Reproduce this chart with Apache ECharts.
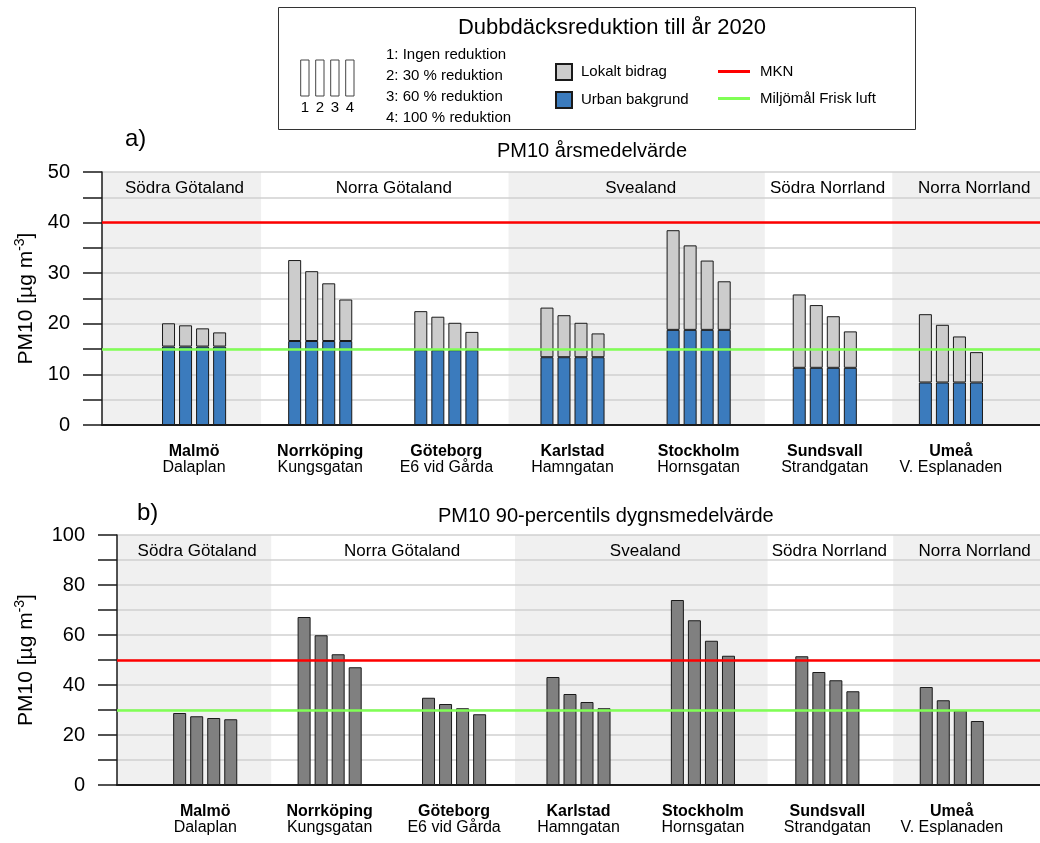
<!DOCTYPE html>
<html><head><meta charset="utf-8">
<script src="https://cdn.jsdelivr.net/npm/echarts@6/dist/echarts.min.js"></script>
<style>html,body{margin:0;padding:0;background:#fff}#c{width:1040px;height:843px}</style>
</head><body><div id="c"></div>
<script>
// ---------- data ----------
const cities = ['Malmö', 'Norrköping', 'Göteborg', 'Karlstad', 'Stockholm', 'Sundsvall', 'Umeå'];
const streets = ['Dalaplan', 'Kungsgatan', 'E6 vid Gårda', 'Hamngatan', 'Hornsgatan', 'Strandgatan', 'V. Esplanaden'];
const regions = ['Södra Götaland', 'Norra Götaland', 'Svealand', 'Södra Norrland', 'Norra Norrland'];
const regionInnerBounds = [0.53, 2.49, 4.52, 5.53]; // region borders, in city-index units
const scenarios = ['1: Ingen reduktion', '2: 30 % reduktion', '3: 60 % reduktion', '4: 100 % reduktion'];
const scenarioNumbers = ['1', '2', '3', '4'];
// a) annual mean, urban background (same for all scenarios)
const urbanBackground = [15.5, 16.6, 14.8, 13.4, 18.8, 11.3, 8.4];
// a) annual mean, local contribution per scenario
const localScen1 = [4.6, 16.0, 7.7, 9.8, 19.7, 14.5, 13.5];
const localScen2 = [4.2, 13.8, 6.6, 8.3, 16.7, 12.4, 11.4];
const localScen3 = [3.6, 11.4, 5.4, 6.8, 13.7, 10.2, 9.1];
const localScen4 = [2.8, 8.2, 3.6, 4.7, 9.6, 7.2, 6.0];
// b) 90-percentile daily mean per scenario
const p90Scen1 = [28.8, 67.2, 34.9, 43.2, 74.0, 51.5, 39.2];
const p90Scen2 = [27.5, 59.9, 32.4, 36.4, 65.9, 45.2, 33.9];
const p90Scen3 = [26.8, 52.3, 30.7, 33.2, 57.7, 41.9, 29.8];
const p90Scen4 = [26.3, 47.1, 28.3, 30.7, 51.7, 37.5, 25.6];
const mknAnnual = 40, goalAnnual = 15;
const mknP90 = 50, goalP90 = 30;
const yTicksA = {max: 50, step: 5, labelStep: 10};
const yTicksB = {max: 100, step: 10, labelStep: 20};

// ---------- chart ----------
const FONT = '"Liberation Sans", Arial, Helvetica, sans-serif';
const localAll = [localScen1, localScen2, localScen3, localScen4];
const p90All = [p90Scen1, p90Scen2, p90Scen3, p90Scen4];
const BLUE = '#3b7bbd', LIGHT = '#cccccc', DARK = '#808080', EDGE = '#1a1a1a';
const RED = '#ff0000', GREEN = '#80ff55';

// back grid (bands, gridlines, y-axis, limit lines) + bar grid (category axis) per panel
const panels = [
  {xMin: -0.73, xMax: 6.70, y: yTicksA, nameGap: 62, mkn: mknAnnual, goal: goalAnnual,
   back: {left: 102, right: 0, top: 172, bottom: 418}, bars: {left: 131, right: 26, top: 172, bottom: 418}},
  {xMin: -0.71, xMax: 6.71, y: yTicksB, nameGap: 78, mkn: mknP90, goal: goalP90,
   back: {left: 117, right: 0, top: 535, bottom: 58}, bars: {left: 143, right: 26, top: 535, bottom: 58}}
];
const labelShift = [3, 9, 4, -1, 8];

const grids = [], xAxes = [], yAxes = [];
panels.forEach((p, i) => {
  grids.push(p.back, p.bars);
  // back axes (index 2i)
  xAxes.push({
    type: 'value', gridIndex: 2 * i, min: p.xMin, max: p.xMax, z: 1,
    axisLine: {show: true, onZero: false, lineStyle: {color: EDGE, width: 2}},
    axisTick: {show: false}, splitLine: {show: false}, axisLabel: {show: false}
  });
  yAxes.push({
    type: 'value', gridIndex: 2 * i, min: 0, max: p.y.max, interval: p.y.step, z: 1,
    axisLine: {show: true, onZero: false, lineStyle: {color: EDGE, width: 1.5}},
    axisTick: {show: true, length: 19, lineStyle: {color: EDGE, width: 1.5}},
    axisLabel: {margin: 32, fontSize: 20, color: '#000', fontFamily: FONT,
      formatter: v => (v % p.y.labelStep === 0 ? String(v) : '')},
    splitLine: {show: true, lineStyle: {color: '#d0d0d0', width: 1.5}},
    name: '{n|PM10 [µg m}{s|-3}{n|]}', nameLocation: 'middle', nameRotate: 90, nameGap: p.nameGap,
    nameTextStyle: {rich: {
      n: {fontSize: 21, lineHeight: 26, fontFamily: FONT, color: '#000'},
      s: {fontSize: 14, lineHeight: 14, verticalAlign: 'top', fontFamily: FONT, color: '#000'}
    }}
  });
  // bar axes (index 2i+1)
  xAxes.push({
    type: 'category', gridIndex: 2 * i + 1, data: cities,
    axisLine: {show: false}, axisTick: {show: false}, splitLine: {show: false},
    axisLabel: {
      margin: 19, interval: 0,
      formatter: (v, idx) => '{b|' + v + '}\n{r|' + streets[idx] + '}',
      rich: {
        b: {fontWeight: 'bold', fontSize: 16, lineHeight: 16, fontFamily: FONT, color: '#000'},
        r: {fontSize: 16, lineHeight: 16, fontFamily: FONT, color: '#000'}
      }
    }
  });
  yAxes.push({type: 'value', gridIndex: 2 * i + 1, min: 0, max: p.y.max, show: false, splitLine: {show: false}});
});

const series = [];
panels.forEach((p, i) => {
  const bounds = [p.xMin].concat(regionInnerBounds, [p.xMax]);
  series.push({
    type: 'line', name: 'bg' + i, xAxisIndex: 2 * i, yAxisIndex: 2 * i, data: [], z: -5, silent: true,
    markArea: {
      silent: true, z: -5,
      label: {show: true, position: 'insideTop', distance: 8, fontSize: 17, color: '#000', fontFamily: FONT},
      data: regions.map((r, k) => [
        {xAxis: bounds[k], name: r,
         itemStyle: {color: k % 2 === 0 ? '#f0f0f0' : 'rgba(255,255,255,0)'},
         label: {offset: [labelShift[k], 0]}},
        {xAxis: bounds[k + 1]}
      ])
    }
  });
});

for (let s = 0; s < 4; s++) {
  series.push({
    type: 'bar', name: 'Urban bakgrund', xAxisIndex: 1, yAxisIndex: 1, stack: 'a' + s,
    barWidth: 13, barGap: '31%', z: 2,
    itemStyle: {color: BLUE, borderColor: EDGE, borderWidth: 1},
    data: urbanBackground
  });
  series.push({
    type: 'bar', name: 'Lokalt bidrag', xAxisIndex: 1, yAxisIndex: 1, stack: 'a' + s,
    barWidth: 13, barGap: '31%', z: 2,
    itemStyle: {color: LIGHT, borderColor: EDGE, borderWidth: 1},
    data: localAll[s]
  });
}
for (let s = 0; s < 4; s++) {
  series.push({
    type: 'bar', name: '90-percentil ' + (s + 1), xAxisIndex: 3, yAxisIndex: 3,
    barWidth: 13, barGap: '31%', z: 2,
    itemStyle: {color: DARK, borderColor: EDGE, borderWidth: 1},
    data: p90All[s]
  });
}
panels.forEach((p, i) => {
  [['MKN', p.mkn, RED], ['Miljömål Frisk luft', p.goal, GREEN]].forEach(([nm, val, col]) => {
    series.push({
      type: 'line', name: nm, xAxisIndex: 2 * i, yAxisIndex: 2 * i, data: [], z: 5, color: col,
      itemStyle: {color: col}, lineStyle: {color: col},
      markLine: {silent: true, z: 6, symbol: 'none', label: {show: false},
        lineStyle: {color: col, width: 2.5, type: 'solid'}, data: [{yAxis: val}]}
    });
  });
});

const graphics = [
  {type: 'rect', shape: {x: 278.5, y: 7.5, width: 637, height: 122}, style: {fill: 'none', stroke: '#333', lineWidth: 1}},
  {type: 'text', x: 612, y: 28, style: {text: 'Dubbdäcksreduktion till år 2020', fontSize: 22, fontFamily: FONT, fill: '#000', textAlign: 'center', textVerticalAlign: 'middle'}},
  {type: 'text', x: 125, y: 139, style: {text: 'a)', fontSize: 24, fontFamily: FONT, fill: '#000', textAlign: 'left', textVerticalAlign: 'middle'}},
  {type: 'text', x: 497, y: 151, style: {text: 'PM10 årsmedelvärde', fontSize: 20, fontFamily: FONT, fill: '#000', textAlign: 'left', textVerticalAlign: 'middle'}},
  {type: 'text', x: 137, y: 513, style: {text: 'b)', fontSize: 24, fontFamily: FONT, fill: '#000', textAlign: 'left', textVerticalAlign: 'middle'}},
  {type: 'text', x: 438, y: 516, style: {text: 'PM10 90-percentils dygnsmedelvärde', fontSize: 20, fontFamily: FONT, fill: '#000', textAlign: 'left', textVerticalAlign: 'middle'}}
];
scenarios.forEach((t, k) => {
  graphics.push({type: 'text', x: 386, y: 55 + k * 20.8, style: {text: t, fontSize: 15, fontFamily: FONT, fill: '#000', textAlign: 'left', textVerticalAlign: 'middle'}});
});
scenarioNumbers.forEach((t, k) => {
  graphics.push({type: 'rect', shape: {x: 300.7 + k * 15, y: 60, width: 8.3, height: 36}, style: {fill: '#fff', stroke: '#444', lineWidth: 1}});
  graphics.push({type: 'text', x: 304.8 + k * 15, y: 108, style: {text: t, fontSize: 15, fontFamily: FONT, fill: '#000', textAlign: 'center', textVerticalAlign: 'middle'}});
});

const option = {
  animation: false,
  backgroundColor: '#fff',
  textStyle: {fontFamily: FONT},
  grid: grids,
  xAxis: xAxes,
  yAxis: yAxes,
  legend: [
    {data: ['Lokalt bidrag', 'Urban bakgrund'], orient: 'vertical', left: 550, top: 58, icon: 'rect',
     itemWidth: 16, itemHeight: 16, itemGap: 10, selectedMode: false,
     textStyle: {fontSize: 15, lineHeight: 15, fontFamily: FONT, color: '#000', padding: [0, 0, 0, 4]}},
    {data: ['MKN', 'Miljömål Frisk luft'], orient: 'vertical', left: 713, top: 59, icon: 'rect',
     itemWidth: 32, itemHeight: 3, itemGap: 12, selectedMode: false,
     textStyle: {fontSize: 15, lineHeight: 15, fontFamily: FONT, color: '#000', padding: [0, 0, 0, 5]}}
  ],
  graphic: graphics,
  series: series
};
const chart = echarts.init(document.getElementById('c'));
chart.setOption(option);
</script></body></html>
